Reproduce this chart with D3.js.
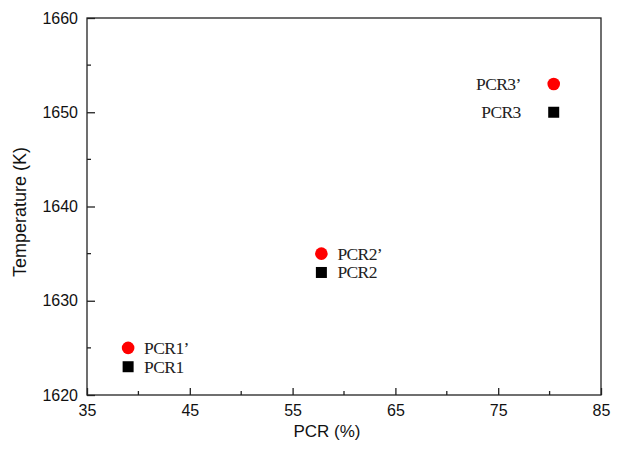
<!DOCTYPE html>
<html><head><meta charset="utf-8">
<script src="https://cdn.jsdelivr.net/npm/d3@7"></script>
<style>body{margin:0;background:#fff}</style>
</head><body>
<svg id="c" width="619" height="454"></svg>
<script>
const labels = ["PCR1", "PCR2", "PCR3"];
const pcr = [39, 57.8, 80.4];
const tempSquare = [1623, 1633, 1650];
const tempCircle = [1625, 1635, 1653];
const xTicks = [35, 45, 55, 65, 75, 85];
const yTicks = [1620, 1630, 1640, 1650, 1660];

const svg = d3.select("#c");
const m = {l: 87, r: 601, t: 18, b: 395};
const x = d3.scaleLinear().domain([35, 85]).range([m.l, m.r]);
const y = d3.scaleLinear().domain([1620, 1660]).range([m.b, m.t]);

const stroke = "#222";
svg.append("rect").attr("x", m.l).attr("y", m.t).attr("width", m.r - m.l).attr("height", m.b - m.t)
  .attr("fill", "none").attr("stroke", stroke).attr("stroke-width", 1.3);

const xAxis = d3.axisBottom(x).tickValues(xTicks).tickFormat(d3.format("d"))
  .tickSizeInner(-7).tickSizeOuter(0).tickPadding(10);
const gx = svg.append("g").attr("transform", `translate(0,${m.b})`).call(xAxis);
gx.selectAll(".tick line").attr("stroke", stroke).attr("stroke-width", 1.3);
const xMinor = d3.range(40, 85, 10);
gx.selectAll(".minor").data(xMinor).enter().append("line")
  .attr("x1", d => x(d)).attr("x2", d => x(d)).attr("y1", 0).attr("y2", -4)
  .attr("stroke", stroke).attr("stroke-width", 1.3);

const yAxis = d3.axisLeft(y).tickValues(yTicks).tickFormat(d3.format("d"))
  .tickSizeInner(-8).tickSizeOuter(0).tickPadding(9);
const gy = svg.append("g").attr("transform", `translate(${m.l},0)`).call(yAxis);
gy.selectAll(".tick line").attr("stroke", stroke).attr("stroke-width", 1.3);
const yMinor = d3.range(1625, 1660, 10);
gy.selectAll(".minor").data(yMinor).enter().append("line")
  .attr("y1", d => y(d)).attr("y2", d => y(d)).attr("x1", 0).attr("x2", 4)
  .attr("stroke", stroke).attr("stroke-width", 1.3);

[gx, gy].forEach(g => {
  g.select(".domain").remove();
  g.attr("font-family", "Liberation Sans, Arial, sans-serif").attr("font-size", 16);
  g.selectAll(".tick text").attr("fill", "#111");
});

svg.append("text").attr("x", 327).attr("y", 437).attr("text-anchor", "middle")
  .attr("font-family", "Liberation Sans, Arial, sans-serif").attr("font-size", 17).attr("fill", "#111")
  .text("PCR (%)");
svg.append("text").attr("transform", `translate(26,212) rotate(-90)`).attr("text-anchor", "middle")
  .attr("font-family", "Liberation Sans, Arial, sans-serif").attr("font-size", 18).attr("fill", "#111")
  .text("Temperature (K)");

const data = labels.map((l, i) => ({l, x: pcr[i], ys: tempSquare[i], yc: tempCircle[i], left: i === 2}));
svg.selectAll(".sq").data(data).enter().append("rect")
  .attr("x", d => x(d.x) - 5.5).attr("y", d => y(d.ys) - 5.5).attr("width", 11).attr("height", 11).attr("fill", "#000");
svg.selectAll(".ci").data(data).enter().append("circle")
  .attr("cx", d => x(d.x)).attr("cy", d => y(d.yc)).attr("r", 6.3).attr("fill", "#ff0000");

const lf = "Liberation Serif, Times New Roman, serif";
function lab(cls, key, suffix) {
  svg.selectAll("." + cls).data(data).enter().append("text")
    .attr("x", d => d.left ? x(d.x) - 33 : x(d.x) + 16)
    .attr("y", d => y(d[key]) + 6)
    .attr("text-anchor", d => d.left ? "end" : "start")
    .attr("font-family", lf).attr("font-size", 17.5).attr("letter-spacing", -0.6).attr("fill", "#222")
    .text(d => d.l + suffix);
}
lab("ls", "ys", "");
lab("lc", "yc", "\u2019");
</script>
</body></html>
